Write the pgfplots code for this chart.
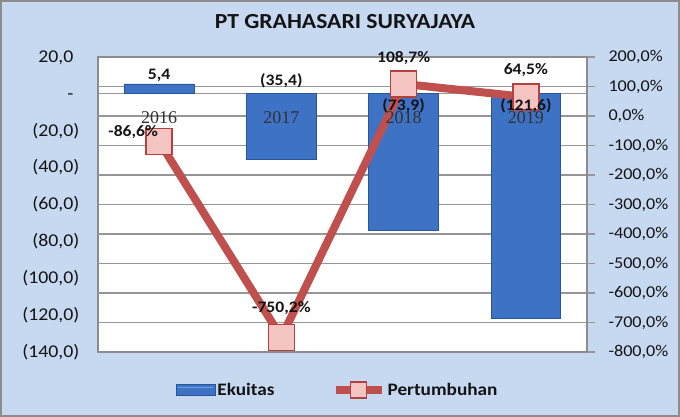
\documentclass[border=0pt]{standalone}
\usepackage{pgfplots}
\pgfplotsset{compat=1.18}
\usepackage{fontspec}
\setmainfont{Carlito}[FakeStretch=1.1]
\newfontfamily\catfont{Liberation Serif}
\definecolor{bgblue}{RGB}{198,217,241}
\definecolor{bordergray}{RGB}{140,140,140}
\definecolor{gridgray}{RGB}{150,150,150}
\definecolor{barfill}{RGB}{62,114,196}
\definecolor{bardark}{RGB}{40,85,155}
\definecolor{barlight}{RGB}{110,160,225}
\definecolor{linered}{RGB}{192,80,77}
\definecolor{markred}{RGB}{180,65,62}
\definecolor{markpink}{RGB}{244,196,195}
\definecolor{txt}{RGB}{20,20,20}
\definecolor{cattxt}{RGB}{50,50,50}
\begin{document}
\begin{tikzpicture}[x=1pt,y=1pt]
\fill[bgblue] (0,0) rectangle (680,417);
\draw[bordergray, line width=2pt] (1,1) rectangle (679,416);
\node[font=\bfseries\fontsize{21.5}{25}\selectfont, text=txt] at (345,395) {PT GRAHASARI SURYAJAYA};
\begin{axis}[
  at={(98pt,65pt)}, anchor=south west,
  width=489pt, height=295pt, scale only axis,
  xmin=-0.5, xmax=3.5, ymin=-140, ymax=20,
  axis background/.style={fill=white},
  axis line style={draw=bordergray, line width=1.5pt},
  xtick=\empty,
  ytick={-140,-120,...,20},
  yticklabels={{(140,0)},{(120,0)},{(100,0)},{(80,0)},{(60,0)},{(40,0)},{(20,0)},{-\phantom{)}},{20,0\phantom{)}}},
  ytick style={draw=none},
  yticklabel style={font=\fontsize{18}{21}\selectfont, text=txt, anchor=east, xshift=-15pt},
  extra y ticks={4,0,-12,-28,-44,-60,-76,-92,-108,-124},
  extra y tick labels={},
  extra y tick style={grid=major, major grid style={draw=gridgray, line width=1.2pt}, ytick style={draw=none}},
  clip=false,
]
\addplot[ybar, bar width=0.57, draw=bardark, line width=0.8pt, fill=barfill] coordinates {(0,5.4) (1,-35.4) (2,-73.9) (3,-121.6)};
\coordinate (C0) at (axis cs:0,0);
\coordinate (C1) at (axis cs:1,0);
\coordinate (C2) at (axis cs:2,0);
\coordinate (C3) at (axis cs:3,0);
\end{axis}
\begin{axis}[
  at={(98pt,65pt)}, anchor=south west,
  width=489pt, height=295pt, scale only axis,
  xmin=-0.5, xmax=3.5, ymin=-800, ymax=200,
  axis x line=none, axis y line*=right,
  y axis line style={draw=bordergray, line width=1.5pt},
  ytick={-800,-700,...,200},
  yticklabels={{-800,0\%},{-700,0\%},{-600,0\%},{-500,0\%},{-400,0\%},{-300,0\%},{-200,0\%},{-100,0\%},{0,0\%},{100,0\%},{200,0\%}},
  tick align=outside, major tick length=8pt,
  ytick style={draw=gridgray, line width=1.2pt},
  yticklabel style={font=\fontsize{16.5}{20}\selectfont, text=txt, anchor=west, xshift=10pt},
  clip=false,
  legend style={at={(0.49,-0.129)}, anchor=center, legend columns=2, draw=none, fill=none,
    font=\bfseries\fontsize{17.5}{20}\selectfont, text=txt,
    /tikz/every even column/.append style={column sep=55pt}},
]
\addlegendimage{legend image code/.code={\fill[barfill, draw=bardark, line width=0.8pt] (0pt,-5.5pt) rectangle (39pt,5.5pt); \draw[barlight, line width=1pt] (2pt,3pt) -- (37pt,3pt);}}
\addlegendentry{Ekuitas}
\addplot[linered, line width=8pt, mark=square*, mark size=13pt,
  mark options={fill=markpink, draw=markred, line width=1.5pt},
  legend image code/.code={\draw[linered, line width=8pt] (0pt,0pt) -- (46pt,0pt); \draw[markred, fill=markpink, line width=1.2pt] (15pt,-8pt) rectangle (31pt,8pt);}]
  coordinates {(0,-86.6) (1,-750.2) (2,108.7) (3,64.5)};
\addlegendentry{Pertumbuhan}
\coordinate (L0) at (axis cs:0,-86.6);
\coordinate (L1) at (axis cs:1,-750.2);
\coordinate (L2) at (axis cs:2,108.7);
\coordinate (L3) at (axis cs:3,64.5);
\coordinate (B0) at (axis cs:0,108.75);
\coordinate (B1) at (axis cs:1,75);
\coordinate (B2) at (axis cs:2,75);
\coordinate (B3) at (axis cs:3,75);
\end{axis}
\begin{scope}[every node/.style={font=\catfont\fontsize{18}{20}\selectfont, text=cattxt}]
\node at (C0) [yshift=-24pt] {2016};
\node at (C1) [yshift=-24pt] {2017};
\node at (C2) [yshift=-24pt] {2018};
\node at (C3) [yshift=-24pt] {2019};
\end{scope}
\begin{scope}[every node/.style={font=\bfseries\fontsize{16}{19}\selectfont, text=txt}]
\node at (L0) [xshift=-26pt, yshift=9pt] {-86,6\%};
\node at (L1) [yshift=29pt] {-750,2\%};
\node at (L2) [yshift=26pt] {108,7\%};
\node at (L3) [yshift=27pt] {64,5\%};
\node at (B0) [anchor=south, yshift=-1pt] {5,4};
\node at (B1) [anchor=south, yshift=2pt] {(35,4)};
\node at (B2) [anchor=north, yshift=-1pt] {(73,9)};
\node at (B3) [anchor=north, yshift=-1pt] {(121,6)};
\end{scope}
\end{tikzpicture}
\end{document}
